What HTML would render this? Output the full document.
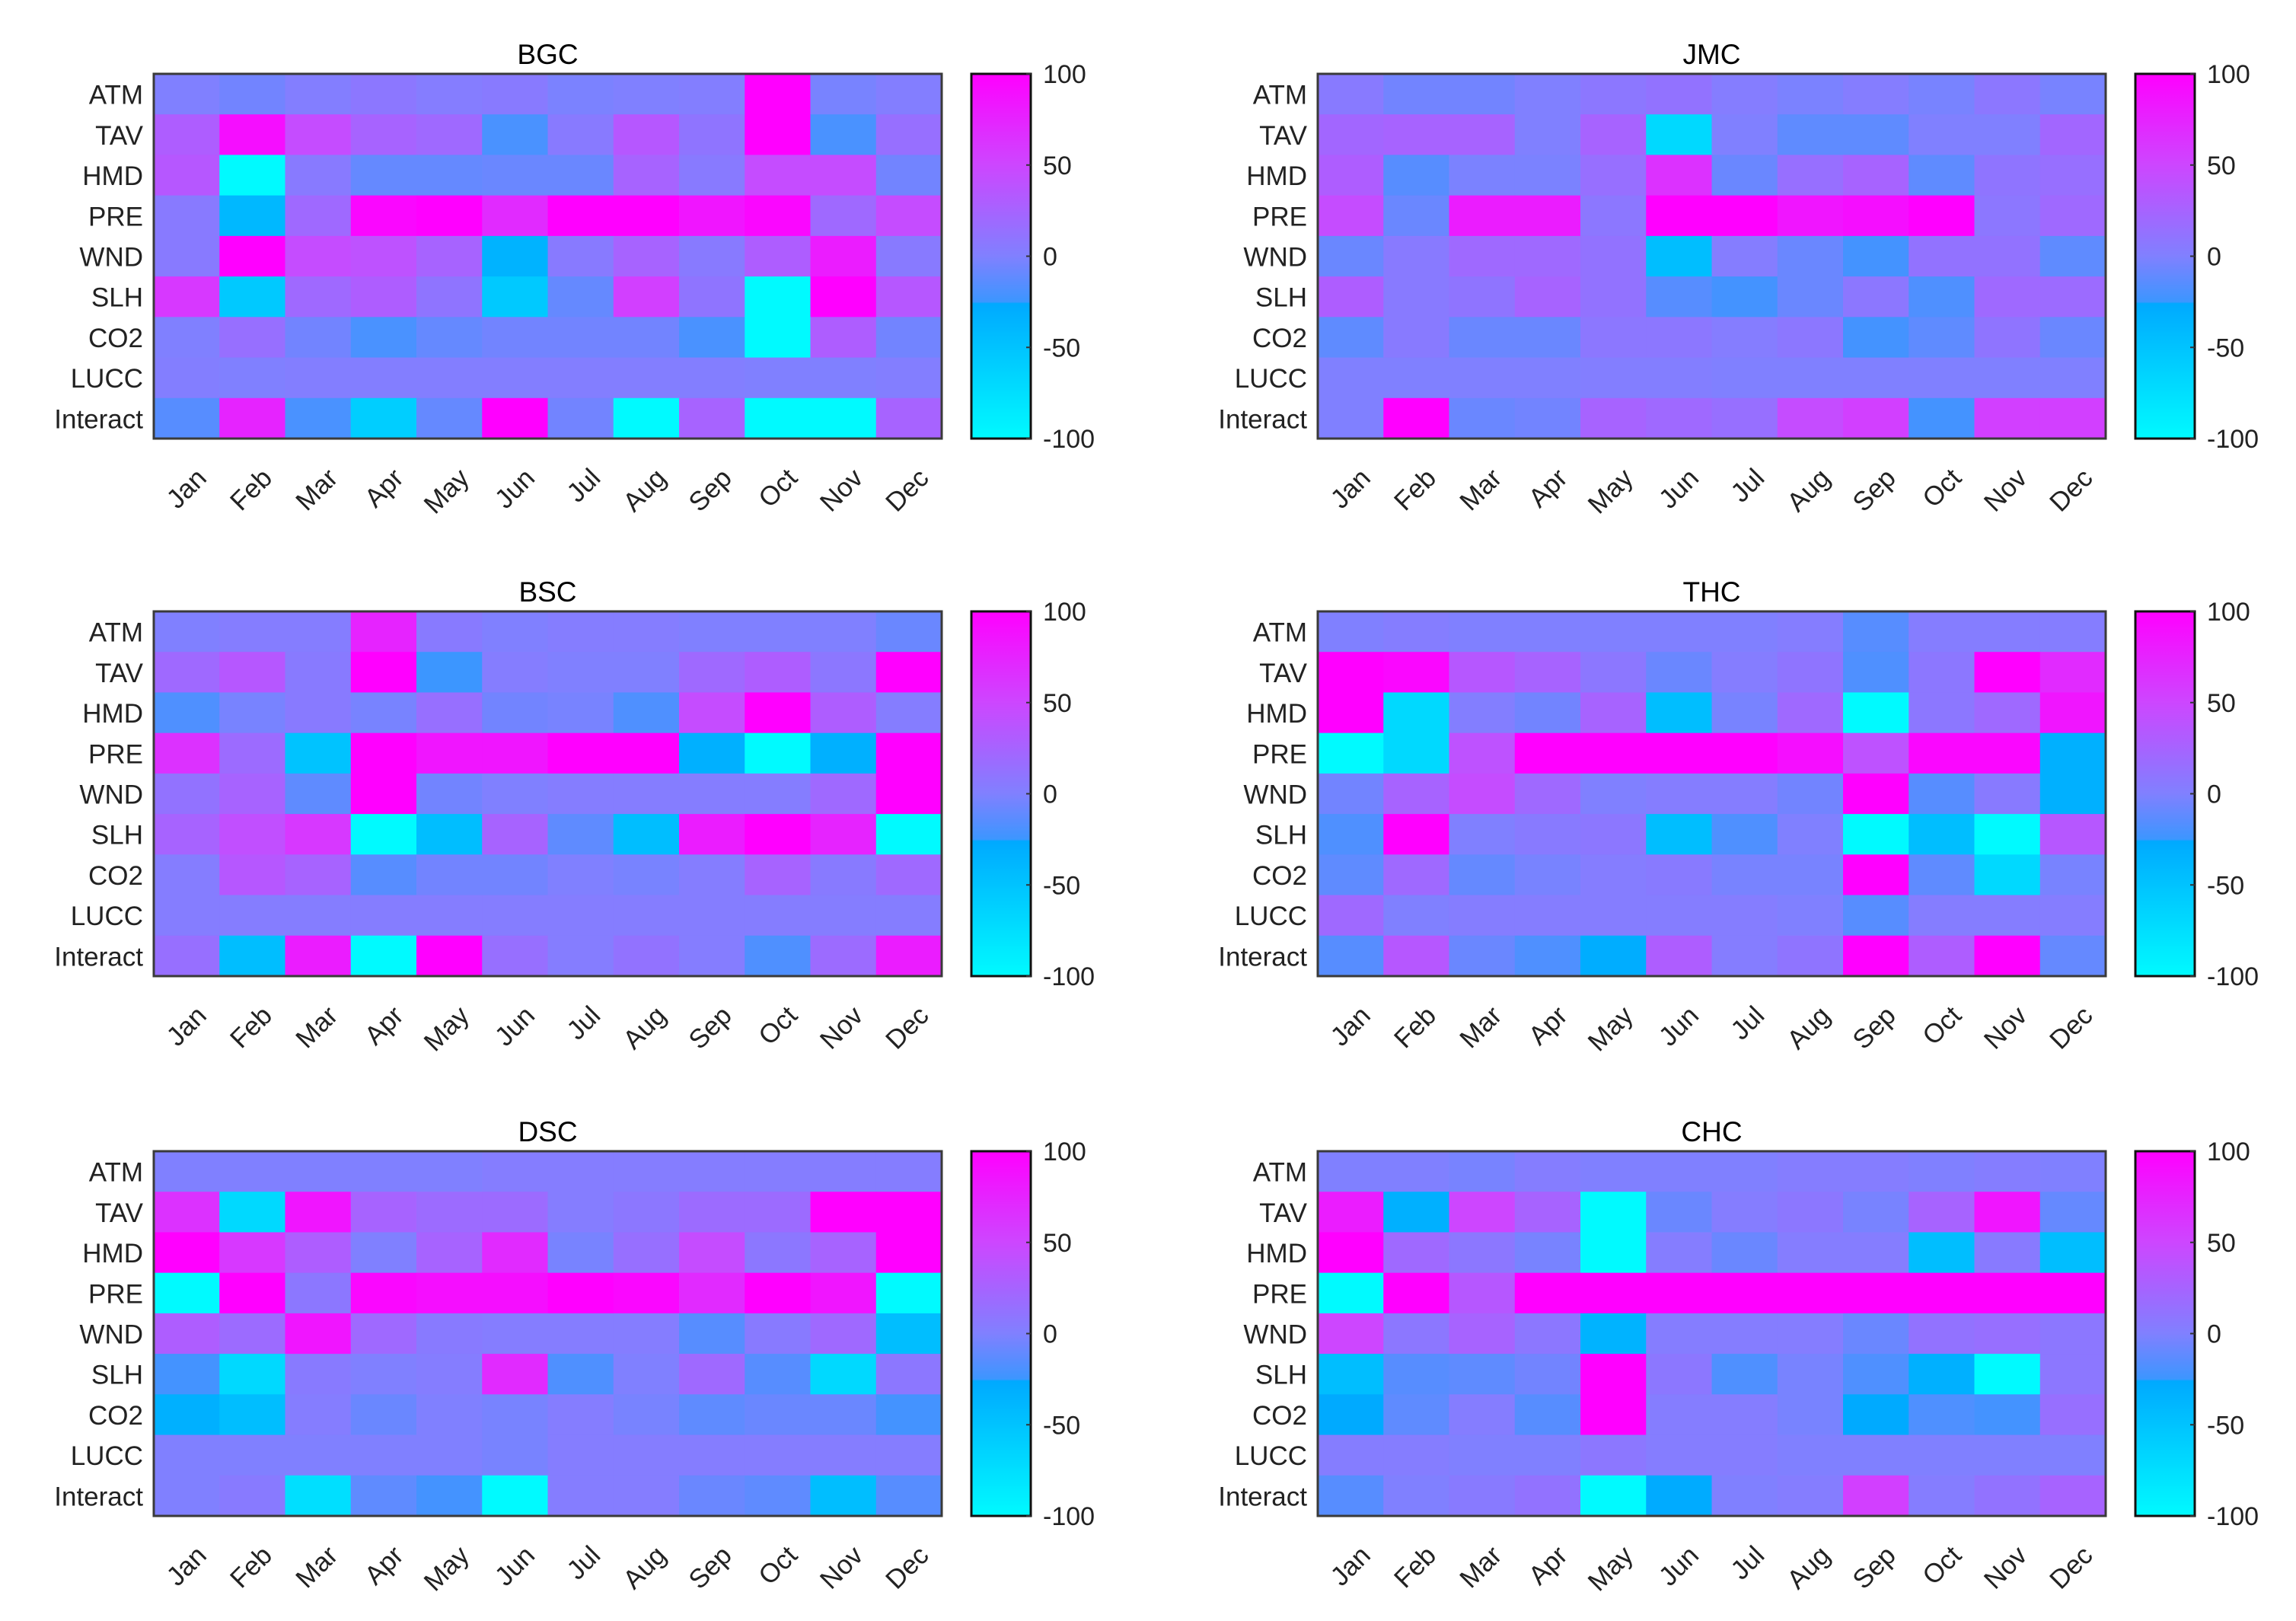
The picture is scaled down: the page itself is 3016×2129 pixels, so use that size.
<!DOCTYPE html>
<html><head><meta charset="utf-8">
<style>
html,body{margin:0;padding:0;background:#fff;}
svg{display:block;font-family:"Liberation Sans",Arial,sans-serif;}
</style></head>
<body>
<svg id="chart" width="3016" height="2129" viewBox="0 0 3016 2129" xmlns="http://www.w3.org/2000/svg">
<defs id="defs"></defs>
</svg>
<script>
const months = ["Jan","Feb","Mar","Apr","May","Jun","Jul","Aug","Sep","Oct","Nov","Dec"];
const factors = ["ATM","TAV","HMD","PRE","WND","SLH","CO2","LUCC","Interact"];
const colorTicks = [100,50,0,-50,-100];
const panelTitles = ["BGC","JMC","BSC","THC","DSC","CHC"];

const bgcValues = [
 [0,-5,2,8,3,5,-2,0,2,100,-3,2],
 [30,90,45,25,20,-20,5,35,10,100,-20,15],
 [35,-100,5,-10,-10,-8,-8,25,5,45,45,-5],
 [5,-40,20,95,100,70,100,100,85,95,20,45],
 [5,100,45,40,25,-35,5,25,5,30,80,5],
 [60,-55,20,30,10,-55,-10,55,10,-100,100,35],
 [0,15,-5,-20,-10,-5,-5,-5,-20,-100,30,-5],
 [2,0,2,2,2,2,2,2,2,0,0,2],
 [-15,75,-20,-60,-10,100,-5,-100,25,-100,-100,25]
];
const jmcValues = [
 [5,-5,-5,0,8,12,3,-2,3,-3,8,-3],
 [22,25,25,0,25,-70,0,-12,-12,0,0,22],
 [30,-15,-2,-2,15,65,-8,15,25,-12,10,15],
 [45,-8,80,80,8,100,100,85,90,100,8,20],
 [-8,5,20,20,12,-45,3,-8,-22,12,12,-12],
 [30,5,10,25,12,-15,-22,-8,8,-18,20,18],
 [-12,5,-8,-8,8,8,3,8,-22,-12,10,-8],
 [0,0,0,0,2,2,0,0,0,0,0,0],
 [0,100,-8,-5,25,20,15,45,55,-22,55,55]
];
const bscValues = [
 [0,3,3,75,5,0,3,3,0,0,0,-8],
 [20,35,5,100,-25,3,0,0,20,30,8,100],
 [-18,-3,5,-3,15,-5,-3,-18,45,100,30,3],
 [65,18,-50,100,85,85,100,100,-32,-100,-32,100],
 [12,25,-12,100,-5,0,3,3,3,3,20,100],
 [25,42,60,-100,-45,25,-12,-45,80,100,75,-100],
 [3,35,25,-15,-5,-5,0,-3,3,25,5,20],
 [3,3,3,3,3,3,3,3,3,3,3,3],
 [15,-45,80,-100,100,15,3,12,3,-18,18,80]
];
const thcValues = [
 [0,3,0,0,0,0,0,3,-15,3,3,3],
 [100,95,35,25,8,-8,3,10,-18,8,100,70],
 [100,-70,2,-5,25,-45,-3,20,-100,8,20,85],
 [-100,-70,40,100,100,100,100,90,40,95,95,-32],
 [-5,25,45,20,0,3,3,-5,100,-15,5,-32],
 [-18,100,0,5,8,-45,-18,0,-100,-45,-100,35],
 [-12,20,-10,-3,3,5,-3,-3,100,-12,-70,-3],
 [20,0,3,3,3,3,3,0,-15,3,3,3],
 [-15,35,-8,-18,-30,30,3,10,100,30,100,-10]
];
const dscValues = [
 [0,0,0,0,0,3,3,3,3,3,3,3],
 [65,-70,85,25,18,18,3,8,18,18,100,100],
 [100,60,30,0,25,70,-3,15,45,8,25,100],
 [-100,100,8,95,90,90,100,95,70,100,85,-100],
 [30,18,85,20,5,3,3,3,-15,5,20,-45],
 [-22,-70,5,0,3,70,-18,0,20,-15,-70,8],
 [-32,-45,3,-8,0,-3,3,-3,-12,-8,-8,-22],
 [0,0,0,0,0,-3,3,3,3,3,3,3],
 [0,5,-75,-12,-22,-100,3,3,-8,-12,-45,-15]
];
const chcValues = [
 [0,0,-3,3,0,0,0,3,3,0,3,0],
 [80,-32,50,25,-100,-8,3,8,-3,25,85,-10],
 [100,20,8,-3,-100,3,-8,3,3,-45,5,-45],
 [-100,100,35,100,100,100,100,100,100,100,100,100],
 [50,8,25,8,-35,3,3,3,-8,12,15,8],
 [-45,-15,-12,-5,100,8,-18,-3,-18,-32,-100,8],
 [-27,-12,3,-15,100,3,3,-3,-27,-18,-22,15],
 [3,3,0,0,8,3,3,0,0,0,0,0],
 [-15,0,5,12,-100,-28,0,3,55,3,12,25]
];
const panelValues = [bgcValues,jmcValues,bscValues,thcValues,dscValues,chcValues];

const NS = "http://www.w3.org/2000/svg";
const svg = document.getElementById('chart');
const defs = document.getElementById('defs');

function lerp(a,b,t){return a+(b-a)*t;}
function mix(c1,c2,t){return [Math.round(lerp(c1[0],c2[0],t)),Math.round(lerp(c1[1],c2[1],t)),Math.round(lerp(c1[2],c2[2],t))];}
function cmap(v){
  v=Math.max(-100,Math.min(100,v));
  let c;
  if(v>=50) c=mix([205,70,255],[255,0,255],(v-50)/50);
  else if(v>=0) c=mix([128,128,255],[205,70,255],v/50);
  else if(v>=-25) c=mix([128,128,255],[60,150,255],-v/25);
  else c=mix([0,168,255],[0,250,255],(-v-25)/75);
  return 'rgb('+c[0]+','+c[1]+','+c[2]+')';
}
function el(tag,attrs,parent){const e=document.createElementNS(NS,tag);for(const k in attrs)e.setAttribute(k,attrs[k]);(parent||svg).appendChild(e);return e;}

const grad = el('linearGradient',{id:'cbgrad',x1:'0',y1:'1',x2:'0',y2:'0'},defs);
for(let v=-100; v<=100; v+=1){
  const off = (v+100)/200;
  if(v===-25){ el('stop',{offset:off,'stop-color':cmap(-24.99)},grad); }
  el('stop',{offset:off,'stop-color':cmap(v)},grad);
}

const W=1035, H=479;
const lefts=[202,1731];
const tops=[97,803,1512];
function xScale(px,i){return px + i*W/12;}
function yScale(py,j){return py + j*H/9;}

panelValues.forEach((vals,p)=>{
  const px = lefts[p%2], py = tops[Math.floor(p/2)];
  const g = el('g',{});
  
  
  const t = el('text',{x:px+W/2,y:py-13,'text-anchor':'middle','font-size':'37'},g);
  
  
  t.textContent = panelTitles[p];
  vals.forEach((row,j)=>{
    row.forEach((v,i)=>{
      const x0=xScale(px,i), x1=xScale(px,i+1), y0=yScale(py,j), y1=yScale(py,j+1);
      const r = el('rect',{x:x0,y:y0,width:x1-x0+0.6,height:y1-y0+0.6,fill:cmap(v)},g);
      
      
    });
  });
  const fr = el('rect',{x:px,y:py,width:W,height:H,fill:'none',stroke:'#3a3a3a','stroke-width':'3'},g);
  
  
  factors.forEach((f,j)=>{
    const yl = el('text',{x:px-14,y:yScale(py,j+0.5)+13,'text-anchor':'end','font-size':'35',fill:'#222'},g);
    
    
    yl.textContent = f;
  });
  months.forEach((m,i)=>{
    const cx = xScale(px,i+0.5)+28, cy = py+H+54;
    const xl = el('text',{x:cx,y:cy,'text-anchor':'end','font-size':'35',fill:'#222',transform:'rotate(-45 '+cx+' '+cy+')'},g);
    
    
    xl.textContent = m;
  });
  const cbx = px + 1074, cbw = 78;
  const cb = el('rect',{x:cbx,y:py,width:cbw,height:H,fill:'url(#cbgrad)',stroke:'#111','stroke-width':'3'},g);
  
  
  colorTicks.forEach(tv=>{
    const ty = py + (100-tv)/200*H;
    el('line',{x1:cbx+cbw-6,x2:cbx+cbw,y1:ty,y2:ty,stroke:'#333','stroke-width':'2'},g);
    const tl = el('text',{x:cbx+cbw+16,y:ty+12,'font-size':'34',fill:'#222'},g);
    
    
    tl.textContent = tv;
  });
});
</script>
</body></html>
